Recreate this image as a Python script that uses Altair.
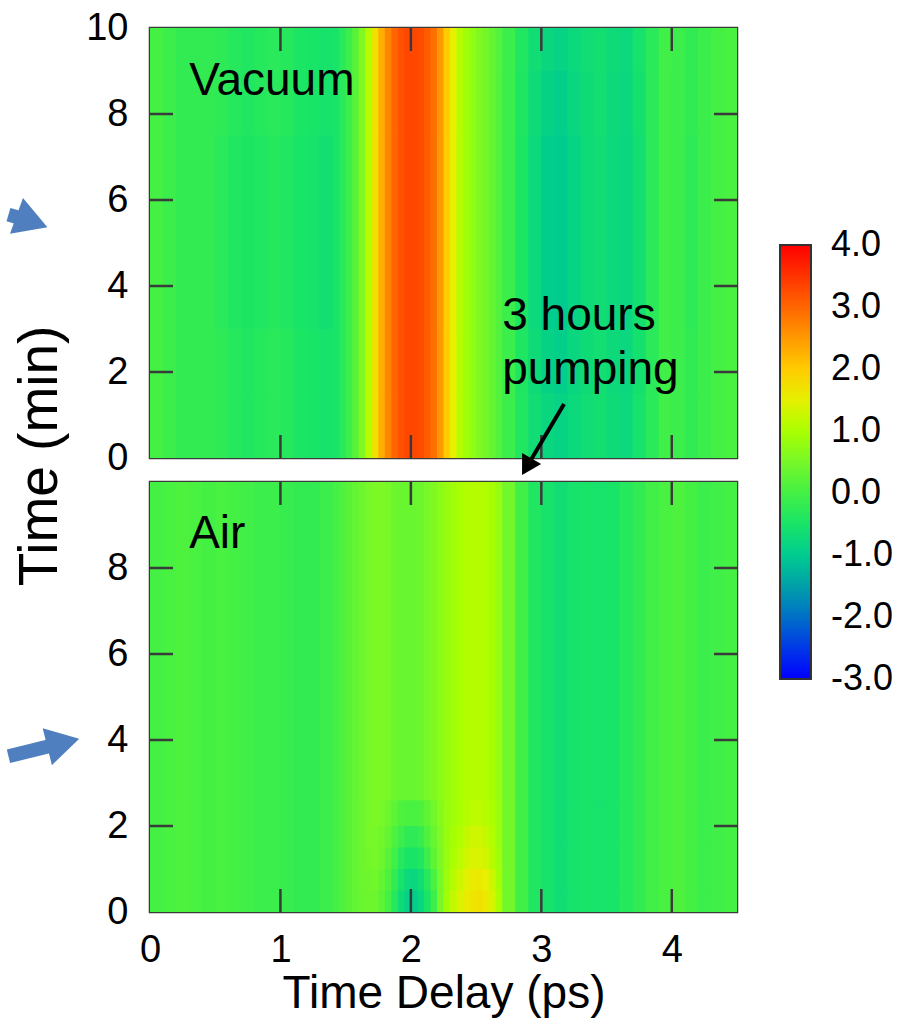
import altair as alt
import pandas as pd

FONT = "Liberation Sans"
FRAME = "#3a3a3a"
ARROW_BLUE = "#4f7fbf"

# ---- column edges (ps) shared by both maps: finer where the signal changes fast
X_EDGES = [0.0, 0.1, 0.2, 0.3, 0.4, 0.5, 0.6, 0.7, 0.8, 0.9, 1.0, 1.1, 1.2, 1.3, 1.4,
           1.45, 1.5, 1.55, 1.6, 1.65, 1.7, 1.75, 1.8, 1.85, 1.9, 1.95, 2.0, 2.05, 2.1,
           2.15, 2.2, 2.25, 2.3, 2.35, 2.4, 2.45, 2.5, 2.55, 2.6, 2.65, 2.7,
           2.8, 2.9, 3.0, 3.1, 3.2, 3.3, 3.4, 3.5, 3.6, 3.7, 3.8, 3.9, 4.0, 4.1, 4.2,
           4.3, 4.4, 4.5]

# ---- Vacuum map: signal per column, split into left part (0-1.4 ps),
# main band (1.4-2.7 ps) and right part (2.7-4.5 ps)
VAC_LEFT_EDGE_ROWS = [0.0, -0.1, -0.2, -0.2, -0.2, -0.25, -0.35, -0.4, -0.35, -0.3,
                      -0.35, -0.45, -0.5, -0.55]
VAC_LEFT_MID_ROWS = [0.0, -0.1, -0.2, -0.2, -0.2, -0.3, -0.4, -0.45, -0.4, -0.35,
                     -0.4, -0.5, -0.55, -0.6]
VAC_BAND = [-0.5, -0.3, -0.1, 0.2, 0.6, 1.1, 1.7, 2.3, 2.7, 3.0, 3.2, 3.3, 3.3, 3.25,
            3.1, 2.9, 2.5, 2.0, 1.5, 1.1, 0.9, 0.75, 0.6, 0.45, 0.3, 0.15]
VAC_RIGHT_LIGHT = [-0.1, -0.4, -0.65, -0.8, -0.85, -0.75, -0.65, -0.6, -0.7, -0.75,
                   -0.55, -0.3, -0.05, -0.1, -0.2, -0.1, 0.0, 0.05]
VAC_RIGHT_MID = [-0.1, -0.42, -0.7, -0.88, -0.93, -0.8, -0.68, -0.62, -0.72, -0.78,
                 -0.58, -0.3, -0.05, -0.1, -0.22, -0.1, 0.0, 0.05]
VAC_RIGHT_DARK = [-0.1, -0.45, -0.75, -0.95, -1.0, -0.85, -0.7, -0.65, -0.75, -0.8,
                  -0.6, -0.3, -0.05, -0.1, -0.25, -0.1, 0.0, 0.05]
VACUUM_Y_EDGES = [0, 1.5, 3, 7.5, 9, 10]
VACUUM_ROWS = [
    VAC_LEFT_EDGE_ROWS + VAC_BAND + VAC_RIGHT_LIGHT,
    VAC_LEFT_EDGE_ROWS + VAC_BAND + VAC_RIGHT_MID,
    VAC_LEFT_MID_ROWS + VAC_BAND + VAC_RIGHT_DARK,
    VAC_LEFT_EDGE_ROWS + VAC_BAND + VAC_RIGHT_MID,
    VAC_LEFT_EDGE_ROWS + VAC_BAND + VAC_RIGHT_LIGHT,
]

# ---- Air map
AIR_Y_EDGES = [0, 0.5, 1.0, 1.5, 2.0, 2.6, 10]
AIR_LEFT = [0.0, 0.05, 0.1, 0.05, 0.0, 0.05, 0.0, -0.05, -0.1, -0.1, -0.15, -0.2, -0.2, -0.1]
AIR_RIGHT = [0.45, -0.05, -0.4, -0.55, -0.65, -0.55, -0.5, -0.55, -0.5, -0.35, -0.2, -0.05,
             0.05, 0.1, 0.0, -0.1, -0.05, 0.0]
AIR_BAND = [
    [0.0, 0.1, 0.2, 0.3, 0.35, 0.4, 0.4, 0.25, 0.0, -0.35, -0.7, -0.9, -0.95, -0.8, -0.5,
     -0.1, 0.5, 0.9, 1.2, 1.4, 1.55, 1.65, 1.7, 1.6, 1.35, 1.0],
    [0.0, 0.1, 0.2, 0.3, 0.4, 0.4, 0.45, 0.3, 0.1, -0.2, -0.55, -0.75, -0.8, -0.65, -0.35,
     0.05, 0.5, 0.85, 1.1, 1.3, 1.45, 1.55, 1.6, 1.5, 1.25, 0.95],
    [0.0, 0.1, 0.2, 0.3, 0.4, 0.45, 0.5, 0.4, 0.2, -0.05, -0.35, -0.5, -0.5, -0.4, -0.1,
     0.25, 0.55, 0.8, 1.0, 1.15, 1.3, 1.4, 1.4, 1.3, 1.1, 0.9],
    [0.0, 0.1, 0.2, 0.3, 0.4, 0.5, 0.5, 0.45, 0.3, 0.1, -0.1, -0.25, -0.25, -0.15, 0.1,
     0.35, 0.6, 0.8, 0.95, 1.05, 1.2, 1.3, 1.3, 1.2, 1.05, 0.85],
    [0.0, 0.1, 0.2, 0.3, 0.4, 0.5, 0.55, 0.5, 0.4, 0.25, 0.1, 0.05, 0.05, 0.1, 0.25,
     0.45, 0.65, 0.8, 0.9, 1.0, 1.1, 1.15, 1.15, 1.1, 1.0, 0.85],
    [0.0, 0.1, 0.2, 0.3, 0.4, 0.5, 0.55, 0.55, 0.5, 0.4, 0.35, 0.35, 0.35, 0.4, 0.5,
     0.6, 0.7, 0.8, 0.9, 1.0, 1.05, 1.1, 1.1, 1.05, 0.95, 0.8],
]
AIR_ROWS = [AIR_LEFT + band + AIR_RIGHT for band in AIR_BAND]

# ---- colour bar (the outer stops sit a hair past -3 and 4 so the end labels
# stay centred on their values)
COLOR_DOMAIN = [-3.001, -2.5, -2, -1.5, -1, -0.5, 0, 0.5, 1, 1.5, 2, 2.5, 3, 3.5, 4.001]
COLOR_RANGE = ["#0000ff", "#0038e6", "#0070c8", "#00a0a8", "#00cc90", "#18e468",
               "#44f044", "#77f828", "#aaff00", "#e6f000", "#ffcc00", "#ff9900",
               "#ff6600", "#ff3300", "#ff0000"]
LEGEND_VALUES = [-3, -2, -1, 0, 1, 2, 3, 4]

# ---- axes
X_TICKS = [1, 2, 3, 4]
Y_TICKS = [2, 4, 6, 8]
X_LABELS = [0, 1, 2, 3, 4]
TOP_Y_LABELS = [0, 2, 4, 6, 8, 10]
BOTTOM_Y_LABELS = [0, 2, 4, 6, 8]

# ---- annotations (data units of each panel)
VACUUM_LABEL = {"x": [0.30], "y": [8.44], "text": ["Vacuum"]}
AIR_LABEL = {"x": [0.30], "y": [8.47], "text": ["Air"]}
PUMP_LABEL = {"x": [2.70, 2.70], "y": [2.98, 1.72], "text": ["3 hours", "pumping"]}
PUMP_ARROW = {"x": [3.174], "y": [1.256], "x2": [2.889], "y2": [-0.205]}
PUMP_HEAD = {"x": [2.889], "y": [-0.205]}
Y_TITLE = {"x": [-0.713], "y": [0.047], "text": ["Time (min)"]}
TOP_BLUE = {"x": [-1.085], "y": [5.66], "x2": [-0.905], "y2": [5.50]}
TOP_BLUE_HEAD = {"x": [-0.905], "y": [5.50]}
BOTTOM_BLUE = {"x": [-1.085], "y": [3.622], "x2": [-0.665], "y2": [3.937]}
BOTTOM_BLUE_HEAD = {"x": [-0.665], "y": [3.937]}
# invisible corner marker that pins the figure's top-left corner
CORNER = {"x": [-1.1308], "y": [10.593]}

W, H = 587, 430
TICK_LEN = 23


def cells(rows, y_edges):
    # each cell reaches a hair into its right/upper neighbour so no seams show
    recs = []
    nx, ny = len(X_EDGES) - 1, len(rows)
    for r, vals in enumerate(rows):
        for i, v in enumerate(vals):
            recs.append({
                "x0": X_EDGES[i],
                "x1": X_EDGES[i + 1] + (0.01 if i < nx - 1 else 0),
                "y0": y_edges[r],
                "y1": y_edges[r + 1] + (0.03 if r < ny - 1 else 0),
                "v": v})
    return pd.DataFrame(recs)


xs = alt.Scale(domain=[0, 4.5], nice=False, zero=False)
ys = alt.Scale(domain=[0, 10], nice=False, zero=False)
cscale = alt.Scale(domain=COLOR_DOMAIN, range=COLOR_RANGE, interpolate="rgb")

legend = alt.Legend(
    type="gradient",
    orient="none", legendX=630, legendY=217, direction="vertical",
    gradientLength=434, gradientThickness=31, gradientStrokeColor="#333",
    gradientStrokeWidth=2, values=LEGEND_VALUES,
    labelExpr="(datum.value < 0 ? '-' : '') + format(abs(datum.value), '.1f')",
    labelFontSize=36, labelOffset=20, labelOverlap=False,
    labelFont=FONT, labelColor="black", title=None, padding=0,
)

y_axis_common = dict(ticks=False, domain=False, grid=False, labelFontSize=38,
                     labelPadding=22, title=None, labelColor="black", labelFont=FONT,
                     format="d")
TOP_X_AXIS = alt.Axis(labels=False, ticks=False, domain=False, grid=False, title=None)
TOP_Y_AXIS = alt.Axis(values=TOP_Y_LABELS, **y_axis_common)
BOTTOM_X_AXIS = alt.Axis(values=X_LABELS, ticks=False, domain=False, grid=False,
                         labelFontSize=38, labelPadding=19, labelFlush=False,
                         labelColor="black", labelFont=FONT, format="d",
                         title="Time Delay (ps)", titleFontSize=46,
                         titleFontWeight="normal", titlePadding=2, titleFont=FONT,
                         titleColor="black")
BOTTOM_Y_AXIS = alt.Axis(values=BOTTOM_Y_LABELS, **y_axis_common)


def panel(df, xaxis, yaxis, extras):
    def X(f):
        return alt.X(f, scale=xs, axis=xaxis)

    def Y(f):
        return alt.Y(f, scale=ys, axis=yaxis)

    heat = alt.Chart(df).mark_rect(strokeWidth=0).encode(
        x=X("x0:Q"), x2="x1", y=Y("y0:Q"), y2="y1",
        color=alt.Color("v:Q", scale=cscale, legend=legend),
    )

    tx = pd.DataFrame({"v": X_TICKS})
    ty = pd.DataFrame({"v": Y_TICKS})
    rule = dict(color=FRAME, strokeWidth=2.5)
    ticks = [
        alt.Chart(tx).mark_rule(**rule).encode(
            x=X("v:Q"), y=alt.value(0), y2=alt.value(TICK_LEN)),
        alt.Chart(tx).mark_rule(**rule).encode(
            x=X("v:Q"), y=alt.value(H - TICK_LEN), y2=alt.value(H)),
        alt.Chart(ty).mark_rule(**rule).encode(
            y=Y("v:Q"), x=alt.value(0), x2=alt.value(TICK_LEN)),
        alt.Chart(ty).mark_rule(**rule).encode(
            y=Y("v:Q"), x=alt.value(W - TICK_LEN), x2=alt.value(W)),
    ]

    layers = [heat] + ticks
    for kind, d, opts in extras:
        src = alt.Chart(pd.DataFrame(d))
        if kind == "text":
            layers.append(src.mark_text(font=FONT, color="black", **opts).encode(
                x=X("x:Q"), y=Y("y:Q"), text="text:N"))
        elif kind == "shaft":
            layers.append(src.mark_rule(strokeCap="butt", **opts).encode(
                x=X("x:Q"), y=Y("y:Q"), x2="x2", y2="y2"))
        elif kind == "head":
            layers.append(src.mark_point(shape="triangle-up", filled=True, opacity=1,
                                         strokeWidth=0, **opts).encode(
                x=X("x:Q"), y=Y("y:Q")))
        elif kind == "corner":
            layers.append(src.mark_point(shape="square", filled=True, opacity=0,
                                         size=1, strokeWidth=0).encode(
                x=X("x:Q"), y=Y("y:Q")))
    return alt.layer(*layers).properties(width=W, height=H)


top = panel(
    cells(VACUUM_ROWS, VACUUM_Y_EDGES), TOP_X_AXIS, TOP_Y_AXIS,
    [
        ("corner", CORNER, {}),
        ("text", VACUUM_LABEL, dict(fontSize=46, align="left", baseline="alphabetic")),
        ("text", PUMP_LABEL, dict(fontSize=46, align="left", baseline="alphabetic")),
        ("shaft", PUMP_ARROW, dict(color="black", strokeWidth=4)),
        ("head", PUMP_HEAD, dict(color="black", size=484, angle=210)),
        ("shaft", TOP_BLUE, dict(color=ARROW_BLUE, strokeWidth=14)),
        ("head", TOP_BLUE_HEAD, dict(color=ARROW_BLUE, size=1444, angle=110)),
        ("text", Y_TITLE, dict(fontSize=55, align="center", baseline="alphabetic",
                               angle=270)),
    ],
)

bottom = panel(
    cells(AIR_ROWS, AIR_Y_EDGES), BOTTOM_X_AXIS, BOTTOM_Y_AXIS,
    [
        ("text", AIR_LABEL, dict(fontSize=46, align="left", baseline="alphabetic")),
        ("shaft", BOTTOM_BLUE, dict(color=ARROW_BLUE, strokeWidth=14)),
        ("head", BOTTOM_BLUE_HEAD, dict(color=ARROW_BLUE, size=1444, angle=76)),
    ],
)

chart = alt.vconcat(top, bottom, spacing=24, bounds="flush").properties(
    padding=0,
).configure_view(stroke=FRAME, strokeWidth=2.5)

chart.save("out.html", embed_options={"renderer": "svg", "actions": False})
